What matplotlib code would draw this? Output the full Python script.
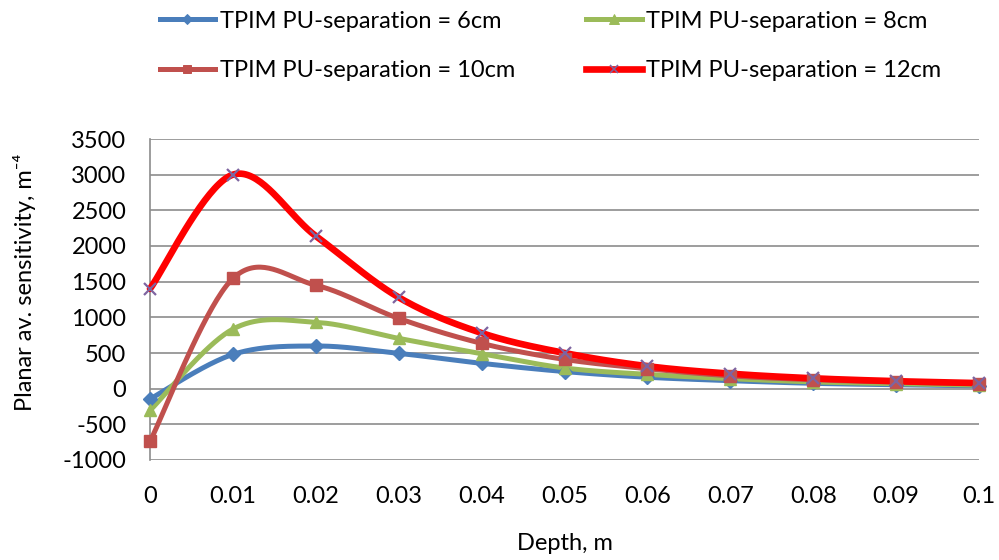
import numpy as np
import matplotlib
matplotlib.use("Agg")
import matplotlib.pyplot as plt
from matplotlib.lines import Line2D

plt.rcParams['font.family'] = ['Lato', 'DejaVu Sans']

depth = [0, 0.01, 0.02, 0.03, 0.04, 0.05, 0.06, 0.07, 0.08, 0.09, 0.1]
sep6 = [-145, 480, 598, 495, 355, 240, 160, 112, 75, 55, 40]
sep8 = [-305, 835, 930, 705, 490, 290, 200, 140, 95, 70, 50]
sep10 = [-740, 1545, 1450, 985, 635, 410, 280, 180, 125, 92, 70]
sep12 = [1400, 3000, 2140, 1280, 780, 500, 315, 210, 145, 105, 78]

labels = ["TPIM PU-separation = 6cm", "TPIM PU-separation = 8cm",
          "TPIM PU-separation = 10cm", "TPIM PU-separation = 12cm"]
xticks = [0, 0.01, 0.02, 0.03, 0.04, 0.05, 0.06, 0.07, 0.08, 0.09, 0.1]
xticklabels = ["0", "0.01", "0.02", "0.03", "0.04", "0.05", "0.06", "0.07", "0.08", "0.09", "0.1"]
yticks = [-1000, -500, 0, 500, 1000, 1500, 2000, 2500, 3000, 3500]


def smooth(xs, ys, n=40):
    """Excel-like smoothed line (Catmull-Rom cubic Bezier)."""
    x = np.asarray(xs, float)
    y = np.asarray(ys, float)
    P = np.column_stack([x, y])
    out = []
    m = len(P)
    for i in range(m - 1):
        p0 = P[i - 1] if i > 0 else P[i]
        p1 = P[i]
        p2 = P[i + 1]
        p3 = P[i + 2] if i + 2 < m else P[i + 1]
        c1 = p1 + (p2 - p0) / 6.0
        c2 = p2 - (p3 - p1) / 6.0
        t = np.linspace(0, 1, n)[:, None]
        seg = ((1 - t) ** 3) * p1 + 3 * ((1 - t) ** 2) * t * c1 + 3 * (1 - t) * t ** 2 * c2 + t ** 3 * p2
        if i > 0:
            seg = seg[1:]
        out.append(seg)
    out = np.vstack(out)
    return out[:, 0], out[:, 1]


fig = plt.figure(figsize=(9.99, 5.6), dpi=100)
ax = fig.add_axes([150 / 999, 100 / 560, 829 / 999, 321 / 560])

styles = [
    dict(data=sep6, color="#4A7EBB", lw=3.6, marker="D", ms=7, mfc="#4A7EBB", mec="#4A7EBB", mew=1),
    dict(data=sep8, color="#9BBB59", lw=3.6, marker="^", ms=9, mfc="#9BBB59", mec="#9BBB59", mew=1),
    dict(data=sep10, color="#C0504D", lw=3.6, marker="s", ms=8.5, mfc="#C0504D", mec="#C0504D", mew=1),
    dict(data=sep12, color="#FF0000", lw=4.8, marker="x", ms=8.5, mfc="#7E64A0", mec="#7E64A0", mew=1.6),
]

handles = []
for st, lab in zip(styles, labels):
    sx, sy = smooth(depth, st["data"])
    ax.plot(sx, sy, color=st["color"], lw=st["lw"], solid_capstyle="round", zorder=3, clip_on=False)
    ax.plot(depth, st["data"], ls="none", marker=st["marker"], ms=st["ms"], mfc=st["mfc"],
            mec=st["mec"], mew=st["mew"], zorder=4, clip_on=False)
    handles.append(Line2D([0], [0], color=st["color"], lw=st["lw"], marker=st["marker"],
                          ms=st["ms"] * 0.75, mfc=st["mfc"], mec=st["mec"], mew=st["mew"] * 0.7))

ax.set_xlim(0, 0.1)
ax.set_ylim(-1000, 3500)
ax.set_xticks(xticks)
ax.set_xticklabels(xticklabels)
ax.set_yticks(yticks)
ax.set_yticklabels([str(v) for v in yticks])
ax.tick_params(axis="both", length=0, labelsize=17, colors="black")
ax.tick_params(axis="y", pad=17)
ax.tick_params(axis="x", pad=19)
ax.yaxis.grid(True, color="#8C8C8C", lw=1.2)
ax.set_axisbelow(True)
for s in ["top", "right", "bottom"]:
    ax.spines[s].set_visible(False)
ax.spines["left"].set_color("#8C8C8C")
ax.spines["left"].set_linewidth(1.2)

ax.set_xlabel("Depth, m", fontsize=17)
ax.xaxis.set_label_coords(0.5, -0.2586)
ax.xaxis.label.set_va("center")
ax.set_ylabel("Planar av. sensitivity, m\u207b\u2074", fontsize=17)
ax.yaxis.set_label_coords(-0.151, 0.555)
ax.yaxis.label.set_va("center")

order = [0, 2, 1, 3]
fig.legend([handles[i] for i in order], [labels[i] for i in order], ncol=2,
           loc="upper left", bbox_to_anchor=(155 / 999, 1 - 6 / 560), frameon=False,
           fontsize=17, handlelength=2.35, handletextpad=0.2, columnspacing=3.0,
           labelspacing=1.2, borderaxespad=0, borderpad=0.2)

fig.savefig("out.png", dpi=100)
